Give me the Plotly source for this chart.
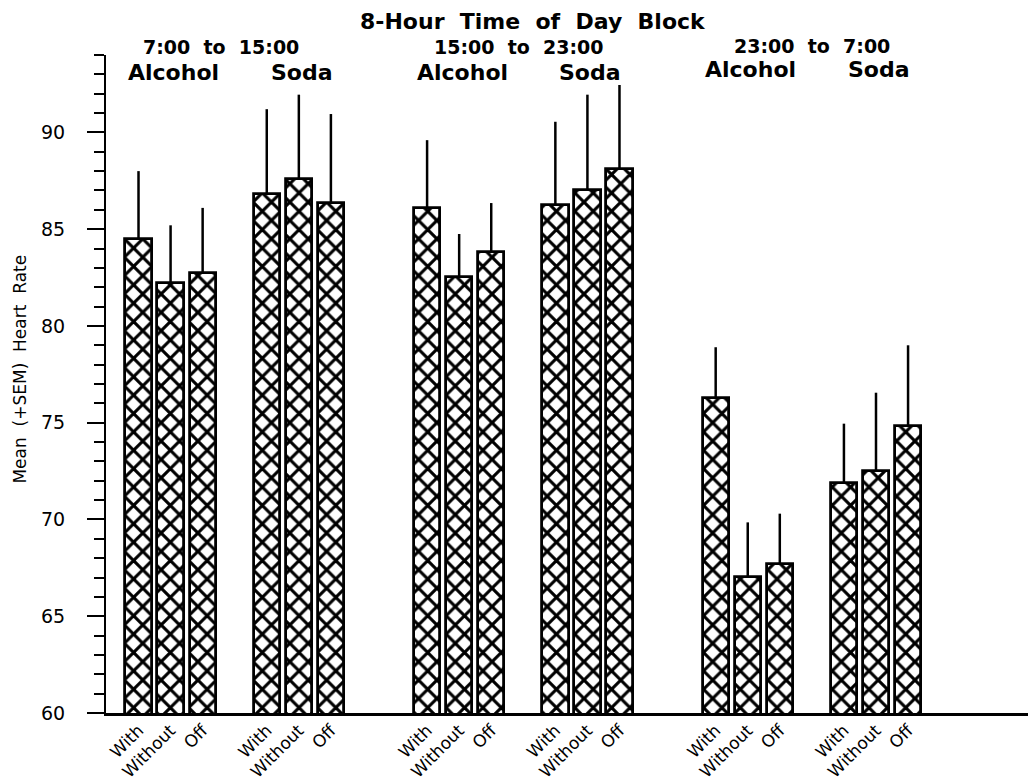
import plotly.graph_objects as go

# ---- data ----
blocks = ["7:00 to 15:00", "15:00 to 23:00", "23:00 to 7:00"]
drinks = ["Alcohol", "Soda"]
conditions = ["With", "Without", "Off"]

alcohol_mean = [[84.5, 82.2, 82.75], [86.1, 82.55, 83.8], [76.3, 67.05, 67.7]]
alcohol_sem = [[3.5, 3.0, 3.35], [3.5, 2.2, 2.55], [2.6, 2.8, 2.6]]
soda_mean = [[86.8, 87.6, 86.35], [86.25, 87.0, 88.1], [71.9, 72.5, 74.85]]
soda_sem = [[4.4, 4.35, 4.6], [4.3, 4.95, 4.35], [3.05, 4.05, 4.15]]

y_major = [60, 65, 70, 75, 80, 85, 90]

# ---- build positions from the group structure ----
xs, ys, es, labels = [], [], [], []
for b in range(len(blocks)):
    for d, (mean, sem) in enumerate([(alcohol_mean, alcohol_sem), (soda_mean, soda_sem)]):
        for c in range(len(conditions)):
            xs.append(9 * b + 4 * d + c)
            ys.append(mean[b][c])
            es.append(sem[b][c])
            labels.append(conditions[c])

fig = go.Figure()
fig.add_trace(go.Bar(
    x=xs, y=ys, width=0.82,
    marker=dict(color="white",
                line=dict(color="black", width=2.8),
                pattern=dict(shape="x", fgcolor="black", bgcolor="white",
                             fgopacity=1, size=13, solidity=0.42,
                             fillmode="overlay")),
    error_y=dict(type="data", symmetric=False, array=es,
                 arrayminus=[0] * len(es), color="black", thickness=2.5, width=0),
    showlegend=False,
))

title_font = dict(family="DejaVu Sans", size=22, color="black", weight="bold")
hdr_font = dict(family="DejaVu Sans", size=22, color="black", weight="bold")
sub_font = dict(family="DejaVu Sans", size=19, color="black", weight="bold")
ann = []
ann.append(dict(text="8-Hour\u00a0 Time\u00a0 of\u00a0 Day\u00a0 Block", x=12.3, xref="x",
                y=1.0509, yref="paper", showarrow=False, yanchor="middle",
                font=title_font))
block_y = [1.0114, 1.0114, 1.0144]
drink_y = [0.9727, 0.9727, 0.978]
block_shift = [-14, -4, 0]
for b, name in enumerate(blocks):
    ann.append(dict(text=name.replace(" ", "\u00a0 "), x=9 * b + 3, xref="x",
                    y=block_y[b], yref="paper", showarrow=False, yanchor="middle",
                    xshift=block_shift[b], font=sub_font))
    for d, dn in enumerate(drinks):
        ann.append(dict(text=dn, x=9 * b + 4 * d + 1, xref="x", xshift=3,
                        y=drink_y[b], yref="paper", showarrow=False, yanchor="middle",
                        font=hdr_font))
ann.append(dict(text="Mean\u00a0 (+SEM)\u00a0 Heart\u00a0 Rate", x=-0.0935, xref="paper",
                y=0.522, yref="paper", showarrow=False, textangle=-90,
                xanchor="center", yanchor="middle",
                font=dict(family="DejaVu Sans", size=17, color="black")))

# the page body adds an 8 px offset, so the figure is 8 px smaller and margins shifted
fig.update_layout(
    width=1028, height=772,
    margin=dict(l=98, r=0, t=47, b=67),
    paper_bgcolor="white", plot_bgcolor="white",
    annotations=ann,
    bargap=0,
    xaxis=dict(range=[-1.014, 27.99], tickvals=xs, ticktext=labels,
               tickangle=-45, showline=True, linecolor="black", linewidth=2.5,
               showgrid=False, zeroline=False, ticks="", automargin=False,
               ticklabelstandoff=-2, ticklabelshift=0,
               tickfont=dict(family="DejaVu Sans", size=17, color="black")),
    yaxis=dict(range=[60, 94], tickvals=y_major, showline=True, linecolor="black",
               linewidth=2, showgrid=False, zeroline=False, automargin=False,
               ticks="outside", ticklen=17, tickwidth=1.5, tickcolor="black",
               ticklabelstandoff=18,
               minor=dict(dtick=1, tick0=60, ticks="outside", ticklen=10,
                          tickwidth=1.5, tickcolor="black", showgrid=False),
               tickfont=dict(family="DejaVu Sans", size=19, color="black")),
)

fig.write_html("out.html")
